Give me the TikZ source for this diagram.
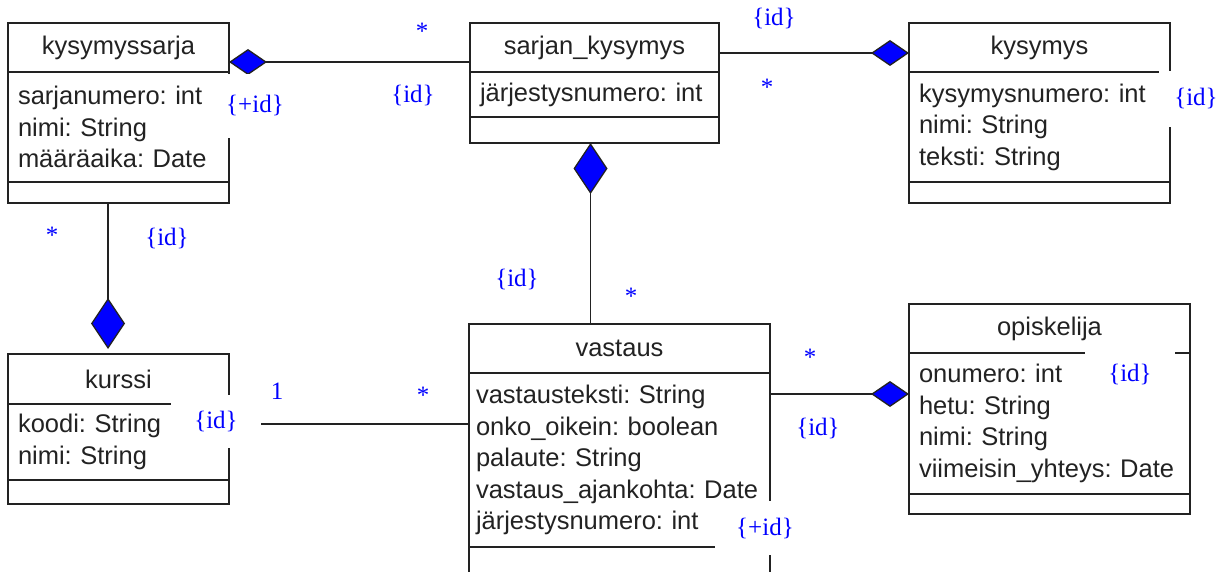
\documentclass[tikz,border=0pt]{standalone}
\usepackage{fontspec}
\setmainfont{Liberation Serif}
\setsansfont{Liberation Sans}
\usetikzlibrary{positioning,arrows.meta}
\frenchspacing
\definecolor{c222222}{RGB}{34,34,34}
\definecolor{c0000ff}{RGB}{0,0,255}
\tikzset{
  hdiam/.tip={Diamond[fill=c0000ff,length=38pt,width=26pt]},
  vdiam/.tip={Diamond[fill=c0000ff,length=51pt,width=34pt]}
}

\begin{document}
\begin{tikzpicture}[y=-1pt, x=1pt, inner sep=0pt, outer sep=0pt,
  every node/.append style={font=\sffamily\fontsize{25.5}{31.5}\selectfont, text=c222222},
  classtitle/.style={draw=c222222, line width=1.5pt},
  classattr/.style={draw=c222222, line width=1.5pt, align=left, inner xsep=10pt},
  classops/.style={draw=c222222, line width=1.5pt},
  link/.style={draw=c222222, line width=1.3pt},
  mult/.style={text=c0000ff, font=\rmfamily\fontsize{25}{25}\selectfont},
  idbox/.style={mult, fill=white}]
  \useasboundingbox (0,0) rectangle (1223,572);

  \node[classtitle, anchor=north west, minimum width=221pt, minimum height=49pt] (kysymyssarja) at (8,23) {kysymyssarja};
  \node[classattr, text width=201pt, minimum height=110pt, below=0pt of kysymyssarja] (kysymyssarja-a) {sarjanumero: int\\nimi: String\\määräaika: Date};
  \node[classops, minimum width=221pt, minimum height=21pt, below=0pt of kysymyssarja-a] (kysymyssarja-o) {};

  \node[classtitle, anchor=north west, minimum width=249pt, minimum height=49pt] (sarjan_kysymys) at (470,23) {sarjan\_kysymys};
  \node[classattr, text width=229pt, minimum height=45pt, below=0pt of sarjan_kysymys] (sarjan_kysymys-a) {järjestysnumero: int};
  \node[classops, minimum width=249pt, minimum height=26pt, below=0pt of sarjan_kysymys-a] (sarjan_kysymys-o) {};

  \node[classtitle, anchor=north west, minimum width=261pt, minimum height=49pt] (kysymys) at (909,23) {kysymys};
  \node[classattr, text width=241pt, minimum height=110pt, below=0pt of kysymys] (kysymys-a) {kysymysnumero: int\\nimi: String\\teksti: String};
  \node[classops, minimum width=261pt, minimum height=21pt, below=0pt of kysymys-a] (kysymys-o) {};

  \node[classtitle, anchor=north west, minimum width=221pt, minimum height=50pt] (kurssi) at (8,354) {kurssi};
  \node[classattr, text width=201pt, minimum height=76pt, below=0pt of kurssi] (kurssi-a) {koodi: String\\nimi: String};
  \node[classops, minimum width=221pt, minimum height=24pt, below=0pt of kurssi-a] (kurssi-o) {};

  \node[classtitle, anchor=north west, minimum width=301pt, minimum height=49pt] (vastaus) at (469,324) {vastaus};
  \node[classattr, text width=287pt, inner xsep=7pt, minimum height=174pt, below=0pt of vastaus] (vastaus-a) {vastausteksti: String\\onko\_oikein: boolean\\palaute: String\\vastaus\_ajankohta: Date\\järjestysnumero: int};
  \node[classops, minimum width=301pt, minimum height=30pt, below=0pt of vastaus-a] (vastaus-o) {};

  \node[classtitle, anchor=north west, minimum width=281pt, minimum height=49pt] (opiskelija) at (909,304) {opiskelija};
  \node[classattr, text width=261pt, minimum height=141pt, below=0pt of opiskelija] (opiskelija-a) {onumero: int\\hetu: String\\nimi: String\\viimeisin\_yhteys: Date};
  \node[classops, minimum width=281pt, minimum height=20pt, below=0pt of opiskelija-a] (opiskelija-o) {};

  \draw[link, hdiam-] ([yshift=-14.5pt]kysymyssarja.east) -- ([yshift=-14.5pt]sarjan_kysymys.west);
  \draw[link, -hdiam] ([yshift=-5.5pt]sarjan_kysymys.east) -- ([yshift=-5.5pt]kysymys.west);
  \draw[link, vdiam-] ([xshift=-4pt]sarjan_kysymys-o.south) -- ([xshift=-4pt]sarjan_kysymys-o.south |- vastaus.north);
  \draw[link, -vdiam, shorten >=5pt] ([xshift=-10.5pt]kysymyssarja-o.south) -- ([xshift=-10.5pt]kurssi.north);
  \draw[link] ([yshift=18pt]kurssi-a.east) -- ([yshift=18pt]kurssi-a.east -| vastaus-a.west);
  \draw[link, -hdiam] ([yshift=66pt]vastaus-a.east) -- ([yshift=66pt]vastaus-a.east -| opiskelija-a.west);

  \node[mult] (ks-sk-m) at (422,31) {*};
  \node[mult] (ks-sk-id) at (413,96) {\{id\}};
  \node[idbox, minimum width=70pt, minimum height=64pt] (ks-sk-pid) at (255,106) {\{+id\}};
  \node[mult] (sk-k-id) at (774,19) {\{id\}};
  \node[mult] (sk-k-m) at (767,87) {*};
  \node[idbox, minimum width=74pt, minimum height=56pt] (k-id) at (1196,99) {\{id\}};
  \node[mult] (ks-ku-m) at (52,235) {*};
  \node[mult] (ks-ku-id) at (167,238) {\{id\}};
  \node[mult] (sk-v-id) at (517,279) {\{id\}};
  \node[mult] (sk-v-m) at (631,296) {*};
  \node[mult] (ku-v-1) at (277,391) {1};
  \node[mult] (ku-v-m) at (423,395) {*};
  \node[idbox, minimum width=90pt, minimum height=53pt] (ku-id) at (216,421) {\{id\}};
  \node[mult] (v-o-m) at (810,357) {*};
  \node[mult] (v-o-id) at (818,428) {\{id\}};
  \node[idbox, minimum width=90pt, minimum height=46pt] (o-id) at (1130,374) {\{id\}};
  \node[idbox, minimum width=100pt, minimum height=54pt] (v-pid) at (765,528) {\{+id\}};
\end{tikzpicture}
\end{document}
